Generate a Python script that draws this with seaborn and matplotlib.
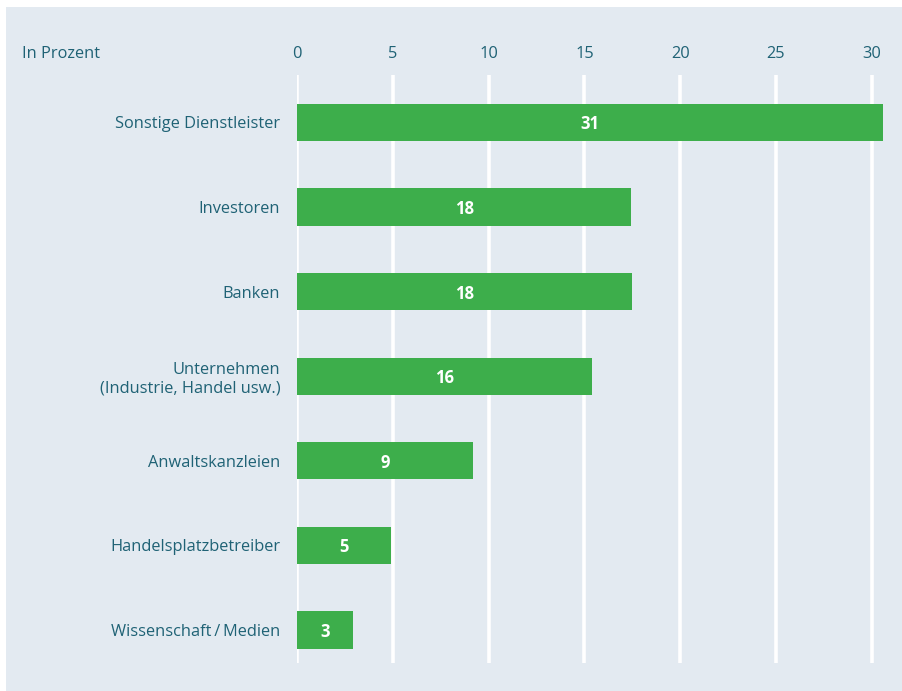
#!/usr/bin/env python3
"""Horizontal bar chart: share of respondents by institution type (in percent)."""
import matplotlib

matplotlib.use("Agg")
import matplotlib.pyplot as plt  # noqa: E402
import pandas as pd  # noqa: E402
import seaborn as sns  # noqa: E402
from matplotlib.patches import Rectangle  # noqa: E402

# Data (bar lengths as drawn, labels as printed)
categories = [
    "Sonstige Dienstleister",
    "Investoren",
    "Banken",
    "Unternehmen\n(Industrie, Handel usw.)",
    "Anwaltskanzleien",
    "Handelsplatzbetreiber",
    "Wissenschaft\u2009/\u2009Medien",
]
values = [30.6, 17.45, 17.5, 15.4, 9.2, 4.9, 2.9]
value_labels = ["31", "18", "18", "16", "9", "5", "3"]
x_ticks = [0, 5, 10, 15, 20, 25, 30]

BG = "#e3eaf1"
GREEN = "#3dae4b"
TEXT = "#1f6275"

sns.set_theme(style="white")
plt.rcParams["font.family"] = ["Open Sans", "DejaVu Sans"]

df = pd.DataFrame({"category": categories, "value": values})

W, H = 902, 691
fig = plt.figure(figsize=(W / 100, H / 100), dpi=100)
fig.patch.set_facecolor("white")
fig.patches.append(Rectangle((6 / W, 0), 1 - 6 / W, 1 - 7 / H,
                             transform=fig.transFigure, facecolor=BG,
                             edgecolor="none", zorder=-10))

# axes box: x=0 at px 297, grid spans y px 75..663
left, right = 297 / W, 891 / W
top, bottom = 1 - 75 / H, 1 - 663 / H
ax = fig.add_axes([left, bottom, right - left, top - bottom])
ax.set_facecolor("none")

sns.barplot(data=df, x="value", y="category", color=GREEN, saturation=1,
            width=0.44, orient="h", linewidth=0, ax=ax, zorder=3)

ax.set_xlim(0, 31)
ax.set_ylim(6.39, -0.56)
for x in x_ticks:
    ax.axvline(x, color="white", linewidth=2.6, zorder=1)

ax.xaxis.tick_top()
ax.set_xticks(x_ticks)
ax.set_xticklabels([str(t) for t in x_ticks])
ax.tick_params(axis="x", length=0, pad=9, labelsize=11.8, labelcolor=TEXT)
ax.tick_params(axis="y", length=0, pad=12, labelsize=11.8, labelcolor=TEXT)
ax.set_xlabel("")
ax.set_ylabel("")
for s in ax.spines.values():
    s.set_visible(False)

for lbl in ax.get_yticklabels():
    lbl.set_multialignment("right")

for i, (v, lab) in enumerate(zip(values, value_labels)):
    ax.text(v / 2, i, lab, ha="center", va="center_baseline", color="white",
            fontsize=12, fontweight="bold", zorder=4)

fig.text(22 / W, 1 - 52.5 / H, "In Prozent", ha="left", va="center_baseline",
         color=TEXT, fontsize=11.8)

fig.savefig("out.png", dpi=100)
